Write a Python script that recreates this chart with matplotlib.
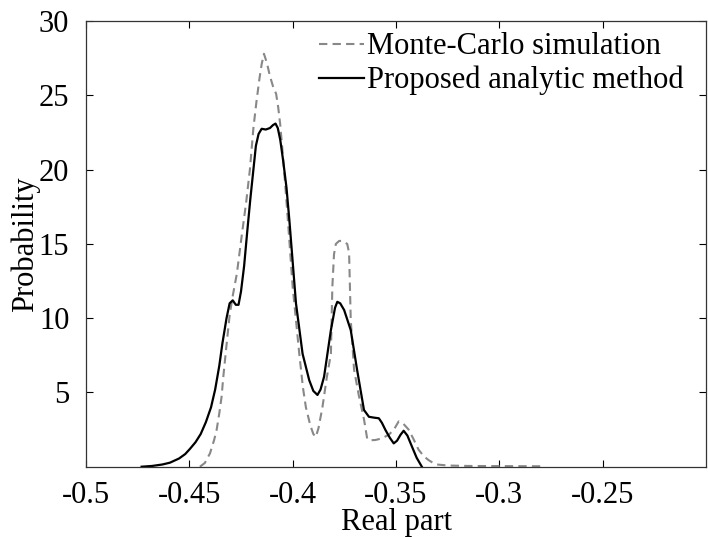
import matplotlib
matplotlib.use("Agg")
import matplotlib.pyplot as plt

# Monte-Carlo simulation (dashed grey)
mc_x = [-0.4449, -0.4425, -0.4400, -0.4380, -0.4368, -0.4355, -0.4344, -0.4336,
        -0.4320, -0.4305, -0.4290, -0.4270, -0.4247, -0.4225, -0.4207, -0.4190,
        -0.4175, -0.4160, -0.4150, -0.4139, -0.4125, -0.4110, -0.4095, -0.4080,
        -0.4070, -0.4060, -0.4050, -0.4035, -0.4020, -0.4000, -0.3992, -0.3968,
        -0.3950, -0.3936, -0.3915, -0.3900, -0.3888, -0.3875, -0.3856, -0.3835,
        -0.3815, -0.3808, -0.3800, -0.3791, -0.3775, -0.3760, -0.3736, -0.3727,
        -0.3719, -0.3703, -0.3680, -0.3655, -0.3639, -0.3620, -0.3599, -0.3570,
        -0.3535, -0.3510, -0.3487, -0.3465, -0.3439, -0.3415, -0.3391, -0.3365,
        -0.3343, -0.3320, -0.3303, -0.3250, -0.3150, -0.3000, -0.2800]
mc_y = [0.0, 0.25, 0.9, 1.8, 2.47, 3.6, 4.7, 6.0,
        8.2, 10.2, 11.5, 13.0, 15.5, 17.8, 20.0, 22.8,
        24.6, 26.2, 27.1, 27.8, 27.2, 26.3, 25.6, 25.1,
        24.2, 23.0, 21.4, 18.8, 16.0, 12.1, 11.0, 7.6,
        5.3, 4.0, 2.8, 2.2, 2.0, 2.6, 4.0, 6.0,
        7.6, 12.1, 14.3, 15.0, 15.2, 15.2, 15.0, 14.4,
        9.9, 6.55, 4.8, 3.2, 1.85, 1.78, 1.8, 1.9,
        2.15, 2.5, 3.05, 2.9, 2.5, 1.85, 1.15, 0.7,
        0.45, 0.25, 0.15, 0.08, 0.05, 0.04, 0.03]

# Proposed analytic method (solid black)
an_x = [-0.4731, -0.4680, -0.4630, -0.4594, -0.4550, -0.4520, -0.4497, -0.4470,
        -0.4445, -0.4420, -0.4395, -0.4375, -0.4355, -0.4340, -0.4320, -0.4305,
        -0.4290, -0.4275, -0.4262, -0.4250, -0.4235, -0.4220, -0.4205, -0.4190,
        -0.4178, -0.4165, -0.4150, -0.4130, -0.4110, -0.4095, -0.4083, -0.4072,
        -0.4060, -0.4046, -0.4030, -0.4016, -0.3984, -0.3952, -0.3920, -0.3900,
        -0.3880, -0.3865, -0.3848, -0.3815, -0.3795, -0.3784, -0.3770, -0.3751,
        -0.3719, -0.3688, -0.3655, -0.3631, -0.3605, -0.3583, -0.3568, -0.3551,
        -0.3530, -0.3511, -0.3495, -0.3478, -0.3463, -0.3445, -0.3423, -0.3400,
        -0.3375]
an_y = [0.0, 0.05, 0.15, 0.27, 0.55, 0.85, 1.2, 1.65,
        2.2, 3.0, 4.0, 5.2, 6.8, 8.3, 10.0, 11.0,
        11.2, 10.9, 10.9, 11.8, 13.5, 15.8, 18.0, 20.0,
        21.6, 22.4, 22.75, 22.7, 22.8, 23.0, 23.1, 22.8,
        22.0, 20.6, 18.8, 16.6, 11.0, 7.6, 5.83, 5.1,
        4.83, 5.2, 6.06, 9.2, 10.7, 11.1, 11.0, 10.55,
        9.2, 6.5, 3.82, 3.36, 3.3, 3.26, 2.95, 2.47,
        1.95, 1.57, 1.75, 2.15, 2.42, 2.1, 1.36, 0.6,
        0.0]

x_ticks = [-0.5, -0.45, -0.4, -0.35, -0.3, -0.25]
x_tick_labels = ["-0.5", "-0.45", "-0.4", "-0.35", "-0.3", "-0.25"]
y_ticks = [5, 10, 15, 20, 25, 30]

plt.rcParams['font.family'] = ['Liberation Serif', 'DejaVu Serif']
plt.rcParams['font.size'] = 22

fig = plt.figure(figsize=(7.08, 5.37), dpi=100)
ax = fig.add_axes([86 / 708, 70.3 / 537, 620 / 708, 445.6 / 537])

mc_line, = ax.plot(mc_x, mc_y, color='#888888', lw=1.5, label='Monte-Carlo simulation')
mc_line.set_dashes((4, 2.5))
ax.plot(an_x, an_y, color='black', lw=1.6, label='Proposed analytic method')

ax.set_xlim(-0.5, -0.2)
ax.set_ylim(0, 30)
ax.set_xticks(x_ticks)
ax.set_xticklabels(x_tick_labels)
ax.set_yticks(y_ticks)
ax.tick_params(direction='in', length=5, width=0.8, top=True, right=True,
               labelsize=22, colors='black')
ax.tick_params(axis='x', pad=10)
ax.tick_params(axis='y', pad=12)
for s in ax.spines.values():
    s.set_linewidth(0.9)
    s.set_color('#333333')

ax.set_xlabel('Real part', fontsize=22, labelpad=-1)
ax.set_ylabel('Probability', fontsize=22, labelpad=-1)

ax.legend(loc='upper left', bbox_to_anchor=(0.375, 0.975), frameon=False,
          fontsize=22, handlelength=1.5, handletextpad=0.1,
          borderpad=0, borderaxespad=0, labelspacing=0.15)

fig.savefig('out.png', dpi=100)
